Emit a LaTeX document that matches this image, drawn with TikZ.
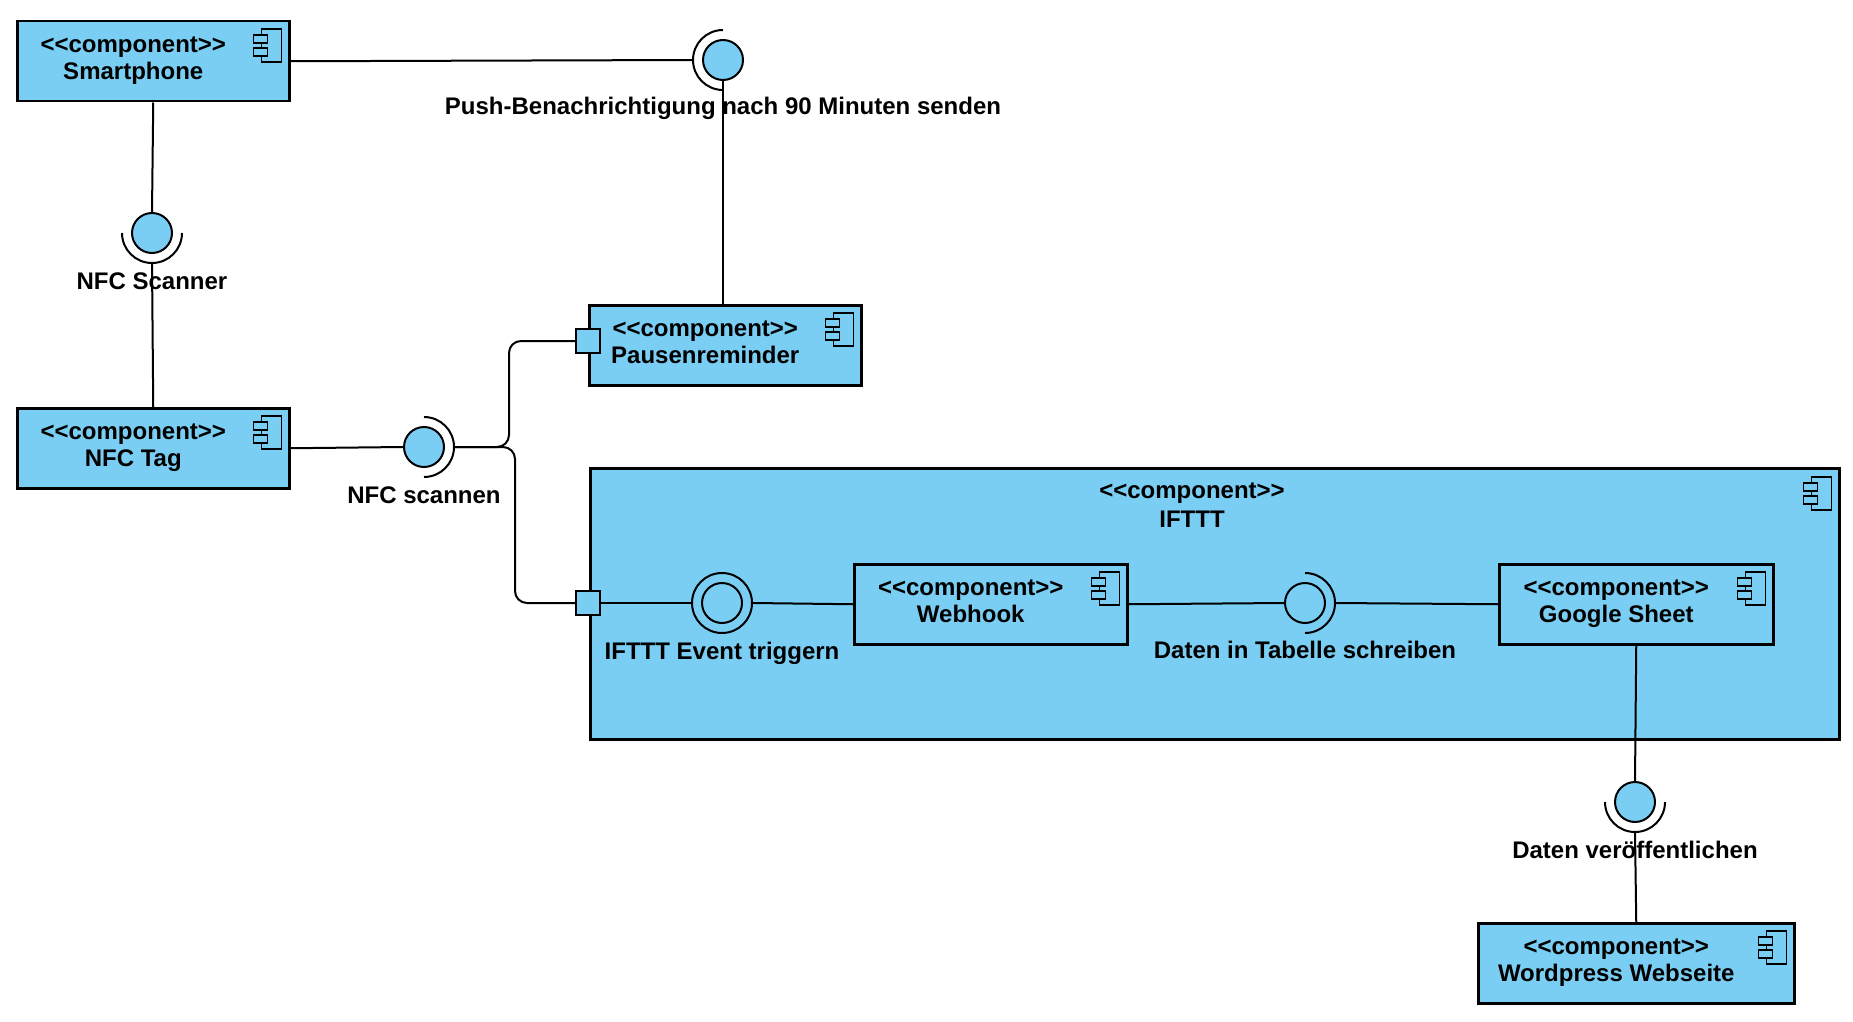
\documentclass[tikz,border=0pt]{standalone}
\usepackage{fontspec}
\setmainfont{Liberation Sans}
\definecolor{compblue}{RGB}{122,206,244}
\newcommand{\stereo}{<\kern0pt<component>\kern0pt>}
\tikzset{
  comp/.style={draw, line width=1.25pt, fill=compblue, minimum height=40pt, inner sep=0pt, anchor=north west},
  txt/.style={font=\fontsize{12pt}{14pt}\selectfont\bfseries, anchor=base, inner sep=0pt},
  ball/.style={circle, draw, line width=1pt, fill=compblue, minimum size=20pt, inner sep=0pt},
  port/.style={draw, line width=1pt, fill=compblue, minimum size=12pt, inner sep=0pt},
  conn/.style={line width=1pt},
  compicon/.pic={
    \draw[line width=0.8pt, fill=compblue] (-20,0) rectangle (0,33);
    \draw[line width=0.8pt, fill=compblue] (-28,6) rectangle (-14,14);
    \draw[line width=0.8pt, fill=compblue] (-28,19) rectangle (-14,27);
  }
}

\begin{document}
\begin{tikzpicture}[x=0.5pt, y=-0.5pt]
\useasboundingbox (0,0) rectangle (1853,1022);

% IFTTT container
\node[comp, minimum width=624.5pt, minimum height=135.5pt] (ifttt) at (589,467) {};
\node[txt] (ifttt-st) at (1192,498) {\stereo};
\node[txt] (ifttt-nm) at (1192,527) {IFTTT};
\pic at ([shift={(-9,10)}]ifttt.north east) {compicon};

% components
\foreach \n/\x/\y/\w/\nm in {sp/16/20/136/Smartphone, tag/16/407/136/NFC Tag, pause/588/304/136/Pausenreminder, hook/853/563/136.5/Webhook, sheet/1498/563/137/Google Sheet, wp/1477/922/158/Wordpress Webseite}{
  \node[comp, minimum width=\w pt] (\n) at (\x,\y) {};
  \node[txt] (\n-st) at ([shift={(-20,-9)}]\n.center) {\stereo};
  \node[txt] (\n-nm) at ([shift={(-20,18)}]\n.center) {\nm};
  \pic at ([shift={(-9,9)}]\n.north east) {compicon};
}

% interfaces
\node[ball] (push) at (723,60) {};
\node[ball] (scan) at (152,233) {};
\node[ball] (nfc) at (424,447) {};
\node[ball, minimum size=30pt] (trig) at (722,603) {};
\node[ball] (trigin) at (722,603) {};
\node[ball] (tab) at (1305,603) {};
\node[ball] (pub) at (1635,802) {};

% sockets
\draw[conn] ([yshift=15pt]push.center) arc[start angle=90, end angle=270, radius=15pt];
\draw[conn] ([xshift=-15pt]scan.center) arc[start angle=180, end angle=360, radius=15pt];
\draw[conn] ([yshift=-15pt]nfc.center) arc[start angle=-90, end angle=90, radius=15pt];
\draw[conn] ([yshift=-15pt]tab.center) arc[start angle=-90, end angle=90, radius=15pt];
\draw[conn] ([xshift=-15pt]pub.center) arc[start angle=180, end angle=360, radius=15pt];

% ports
\node[port] (pport) at (588,341) {};
\node[port] (iport) at (588,603) {};

% labels
\node[txt] (push-lb) at (723,115) {Push-Benachrichtigung nach 90 Minuten senden};
\node[txt] (scan-lb) at (152,289) {NFC Scanner};
\node[txt] (nfc-lb) at (424,503) {NFC scannen};
\node[txt] (trig-lb) at (722,659) {IFTTT Event triggern};
\node[txt] (tab-lb) at (1305,658) {Daten in Tabelle schreiben};
\node[txt] (pub-lb) at (1635,858) {Daten veröffentlichen};

% connectors
\draw[conn] (sp.east) -- ([xshift=-15pt]push.center);
\draw[conn] (push.south) -- (push.south |- pause.north);
\draw[conn] (sp.south) -- (scan.north);
\draw[conn] ([yshift=-15pt]scan.center) -- (tag.north);
\draw[conn] (tag.east) -- (nfc.west);
\draw[conn, rounded corners=6pt] ([xshift=15pt]nfc.center) -- ++(27.5pt,0) |- (pport.west);
\draw[conn, rounded corners=6pt] ([xshift=15pt]nfc.center) -- ++(30.5pt,0) |- (iport.west);
\draw[conn] (iport.east) -- (trig.west);
\draw[conn] (trig.east) -- (hook.west);
\draw[conn] (hook.east) -- (tab.west);
\draw[conn] ([xshift=15pt]tab.center) -- (sheet.west);
\draw[conn] (sheet.south) -- (pub.north);
\draw[conn] ([yshift=-15pt]pub.center) -- (wp.north);
\end{tikzpicture}
\end{document}
